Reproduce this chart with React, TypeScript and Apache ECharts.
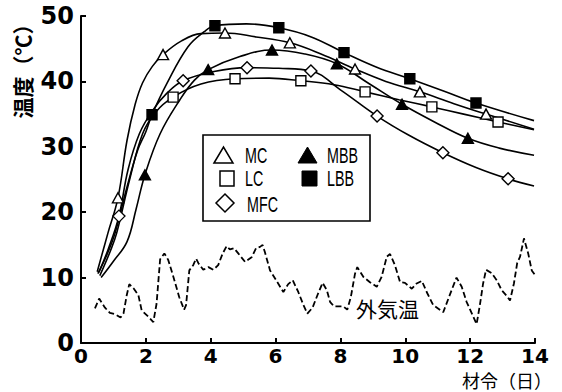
import React, { useEffect, useRef } from "react";
import * as echarts from "echarts";

// ---- data ----
const xTicks = [0, 2, 4, 6, 8, 10, 12, 14];
const yTicks = [0, 10, 20, 30, 40, 50];
const seriesNames = ["MC", "LC", "MFC", "MBB", "LBB"];

const mcCurve = [[0.5,10.9],[0.83,16.8],[1.14,22.2],[1.42,31],[1.67,36.5],[1.9,39.8],[2.2,42.3],[2.53,44.1],[3.1,46.2],[3.7,47.3],[4.44,47.4],[5.4,46.8],[6.44,45.9],[7.4,44.2],[8.45,41.9],[9.4,40],[10.45,38.4],[11.5,36.6],[12.49,35.0],[13.97,32.7]];
const mcMarks = [[1.14,22.2],[2.53,44.1],[4.44,47.4],[6.44,45.9],[8.45,41.9],[10.45,38.4],[12.49,35.0]];

const lbbCurve = [[0.52,10.6],[0.8,13.5],[1.05,16.8],[1.4,23.5],[1.75,29.5],[2.0,32.3],[2.19,34.9],[2.65,39.7],[3.3,45.3],[3.8,47.6],[4.13,48.5],[5.1,48.8],[6.1,48.2],[7.1,46.8],[8.11,44.4],[9.1,42.2],[10.14,40.4],[11.2,38.5],[12.18,36.7],[13.97,34.0]];
const lbbMarks = [[2.19,34.9],[4.13,48.5],[6.1,48.2],[8.11,44.4],[10.14,40.4],[12.18,36.7]];

const mfcCurve = [[0.55,10.8],[0.85,14.5],[1.17,19.4],[1.45,26.5],[1.8,32],[2.2,35.5],[2.65,38.2],[3.15,40.1],[4.1,41.5],[5.12,42.1],[6.1,42.0],[7.09,41.6],[8.0,38.7],[9.13,34.7],[10.1,31.8],[11.16,29.1],[12.2,26.8],[13.17,25.1],[13.97,24.0]];
const mfcMarks = [[1.17,19.4],[3.15,40.1],[5.12,42.1],[7.09,41.6],[9.13,34.7],[11.16,29.1],[13.17,25.1]];

const lcCurve = [[0.58,10.3],[0.9,14],[1.1,16.8],[1.5,25],[1.9,32],[2.3,35.3],[2.84,37.6],[3.7,39.6],[4.75,40.4],[5.8,40.5],[6.78,40.1],[7.8,39.5],[8.76,38.4],[9.8,37.2],[10.82,36.1],[11.8,35.0],[12.86,33.8],[13.97,32.6]];
const lcMarks = [[2.84,37.6],[4.75,40.4],[6.78,40.1],[8.76,38.4],[10.82,36.1],[12.86,33.8]];

const mbbCurve = [[0.62,10.0],[1.0,12.5],[1.42,15.5],[1.7,20.5],[1.97,25.7],[2.44,32],[3.05,37.2],[3.5,40.2],[3.92,41.8],[4.9,43.8],[5.89,44.8],[6.9,44.2],[7.89,42.7],[8.9,39.6],[9.9,36.5],[10.9,33.8],[11.93,31.3],[12.9,29.8],[13.97,28.7]];
const mbbMarks = [[1.97,25.7],[3.92,41.8],[5.89,44.8],[7.89,42.7],[9.9,36.5],[11.93,31.3]];

const outdoorTemp = [[0.43,5.3],[0.56,6.8],[0.74,5.4],[0.89,4.6],[1.05,4.4],[1.22,3.9],[1.31,4.5],[1.41,7.3],[1.49,9.0],[1.63,8.3],[1.77,7.3],[1.87,5.0],[2.08,4.0],[2.23,3.2],[2.33,6.0],[2.44,12.8],[2.57,13.7],[2.69,12.7],[2.85,10.1],[3.03,7.0],[3.18,5.1],[3.24,5.8],[3.34,11.1],[3.46,11.9],[3.55,12.9],[3.62,12.2],[3.77,11.2],[3.93,11.6],[4.08,11.2],[4.23,11.9],[4.37,13.7],[4.49,14.8],[4.59,14.3],[4.72,14.5],[4.85,13.7],[5.06,12.4],[5.26,13.1],[5.4,14.5],[5.52,14.7],[5.6,15.0],[5.67,13.9],[5.83,11.1],[5.98,9.9],[6.24,7.8],[6.39,9.0],[6.53,9.6],[6.7,7.8],[6.86,5.8],[6.98,4.5],[7.14,5.4],[7.29,7.3],[7.45,9.2],[7.58,8.1],[7.68,6.3],[7.8,5.6],[8.09,5.6],[8.21,5.1],[8.32,7.0],[8.45,10.6],[8.52,11.6],[8.71,10.1],[8.91,9.3],[9.12,8.6],[9.27,10.1],[9.43,13.2],[9.53,13.6],[9.68,11.9],[9.84,9.3],[9.99,9.2],[10.2,8.3],[10.35,9.1],[10.51,9.5],[10.66,7.8],[10.86,5.8],[11.17,4.7],[11.43,8.1],[11.58,10.0],[11.74,8.6],[11.89,6.3],[12.1,4.0],[12.2,2.9],[12.3,5.8],[12.4,9.1],[12.49,11.2],[12.66,10.7],[12.82,9.6],[12.97,8.1],[13.13,7.2],[13.23,6.5],[13.35,9.1],[13.45,12.2],[13.54,13.2],[13.66,16.0],[13.79,13.7],[13.9,11.1],[14.0,10.4]];

const yAxisTitle = "温度（℃）";
const xAxisTitle = "材令（日）";
const outdoorLabel = "外気温";

// ---- styles ----
const curves: Record<string, number[][]> = { MC: mcCurve, LC: lcCurve, MFC: mfcCurve, MBB: mbbCurve, LBB: lbbCurve };
const marks: Record<string, number[][]> = { MC: mcMarks, LC: lcMarks, MFC: mfcMarks, MBB: mbbMarks, LBB: lbbMarks };
const symbolOf: Record<string, { symbol: string; size: any; fill: string }> = {
  MC: { symbol: "triangle", size: [11, 10], fill: "#fff" },
  LC: { symbol: "rect", size: [10, 10], fill: "#fff" },
  MFC: { symbol: "diamond", size: [12, 12], fill: "#fff" },
  MBB: { symbol: "triangle", size: [11, 10], fill: "#000" },
  LBB: { symbol: "rect", size: [10, 10], fill: "#000" },
};

export default function App() {
  const ref = useRef<HTMLDivElement>(null);
  useEffect(() => {
    if (!ref.current) return;
    const chart = echarts.init(ref.current, undefined, { renderer: "svg" });
    const series: any[] = [];
    seriesNames.forEach((n) => {
      series.push({
        name: n, type: "line", data: curves[n], smooth: 0.4, symbol: "none",
        lineStyle: { color: "#000", width: 1.6 }, z: 2,
      });
    });
    series.push({
      name: outdoorLabel, type: "line", data: outdoorTemp, symbol: "none",
      lineStyle: { color: "#000", width: 1.8, type: [6, 3] }, z: 2,
    });
    seriesNames.forEach((n) => {
      const s = symbolOf[n];
      series.push({
        name: n + "-marks", type: "scatter", data: marks[n], symbol: s.symbol, symbolSize: s.size,
        itemStyle: { color: s.fill, borderColor: "#000", borderWidth: 1.4, opacity: 1 }, z: 5,
      });
    });

    const txt = { fontFamily: "Liberation Sans, Arial, sans-serif", fontSize: 22, fill: "#000" };
    const legendText = (t: string, x: number, y: number) => ({
      type: "text", x, y, scaleX: 0.65, z: 20,
      style: { ...txt, text: t, align: "left", verticalAlign: "middle" },
    });

    chart.setOption({
      animation: false,
      grid: { left: 81, right: 27, top: 16, bottom: 49 },
      xAxis: {
        type: "value", min: 0, max: 14, interval: 2,
        axisLine: { lineStyle: { color: "#000", width: 2 } },
        axisTick: { inside: true, length: 5, lineStyle: { color: "#000", width: 2 } },
        splitLine: { show: false },
        axisLabel: { color: "#000", fontFamily: "DejaVu Sans", fontWeight: "bold", fontSize: 20, lineHeight: 18, margin: 4,
          formatter: (v: number) => (xTicks.includes(v) ? String(v) : "") },
      },
      yAxis: {
        type: "value", min: 0, max: 50, interval: 10,
        axisLine: { show: true, lineStyle: { color: "#000", width: 2 } },
        axisTick: { show: true, inside: true, length: 5, lineStyle: { color: "#000", width: 2 } },
        splitLine: { show: false },
        axisLabel: { color: "#000", fontFamily: "DejaVu Sans", fontWeight: "bold", fontSize: 24, margin: 7,
          formatter: (v: number) => (yTicks.includes(v) ? String(v) : "") },
      },
      series,
      graphic: [
        { type: "text", x: 22, y: 66, rotation: Math.PI / 2,
          style: { text: yAxisTitle, fontFamily: "Noto Sans CJK JP", fontWeight: "bold", fontSize: 21, fill: "#000", align: "center", verticalAlign: "middle" } },
        { type: "text", x: 552, y: 380,
          style: { text: xAxisTitle, fontFamily: "Noto Sans CJK JP", fontSize: 18, lineHeight: 18, fill: "#000", align: "right", verticalAlign: "middle" } },
        { type: "text", x: 356, y: 308, z: 20,
          style: { text: outdoorLabel, fontFamily: "Noto Sans CJK JP", fontSize: 21, fill: "#000", align: "left", verticalAlign: "middle" } },
        { type: "rect", shape: { x: 203, y: 135, width: 167, height: 86 }, z: 10,
          style: { fill: "#fff", stroke: "#000", lineWidth: 1.6 } },
        { type: "polygon", shape: { points: [[214, 163], [223.5, 147], [233, 163]] }, z: 20,
          style: { fill: "#fff", stroke: "#000", lineWidth: 1.5 } },
        { type: "polygon", shape: { points: [[298, 163], [307.5, 147], [317, 163]] }, z: 20,
          style: { fill: "#000", stroke: "#000", lineWidth: 1 } },
        { type: "rect", shape: { x: 220, y: 171, width: 14, height: 15 }, z: 20,
          style: { fill: "#fff", stroke: "#000", lineWidth: 1.5 } },
        { type: "rect", shape: { x: 302, y: 171, width: 15, height: 15 }, z: 20,
          style: { fill: "#000", stroke: "#000", lineWidth: 1 } },
        { type: "polygon", shape: { points: [[225, 194], [234, 203], [225, 212], [216, 203]] }, z: 20,
          style: { fill: "#fff", stroke: "#000", lineWidth: 1.5 } },
        legendText(seriesNames[0], 245, 155),
        legendText(seriesNames[3], 327, 155),
        legendText(seriesNames[1], 245, 178),
        legendText(seriesNames[4], 327, 178),
        legendText(seriesNames[2], 247, 204),
      ],
    });
    return () => chart.dispose();
  }, []);
  return <div ref={ref} style={{ position: "absolute", left: 0, top: 0, width: 562, height: 392, background: "#fff" }} />;
}
